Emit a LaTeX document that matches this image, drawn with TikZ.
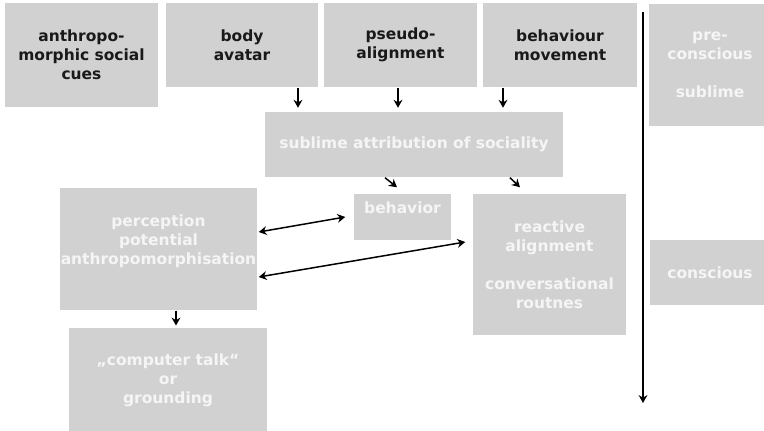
\documentclass[tikz,border=0pt]{standalone}
\usepackage{fontspec}
\setmainfont{DejaVu Sans}
\usetikzlibrary{arrows.meta}
\definecolor{boxgray}{HTML}{D1D1D1}
\definecolor{paletext}{HTML}{F5F5F5}

\begin{document}
\begin{tikzpicture}[x=0.02cm,y=-0.02cm,>={Stealth[length=4.5pt,width=5pt]},
    font=\bfseries\fontsize{8.8}{10.8}\selectfont,line width=0.85pt,
    box/.style={fill=boxgray,inner sep=0pt,align=center,text=black!90},
    pale/.style={box,text=paletext}]
  \useasboundingbox (0,0) rectangle (764,431);
  \clip (0,0) rectangle (764,431);
  \node[box,minimum width=3.06cm,minimum height=2.08cm] (cues) at (81.5,55)
    {anthropo-\\morphic social\\cues};
  \node[box,minimum width=3.04cm,minimum height=1.68cm] (avatar) at (242,45)
    {body\\avatar};
  \node[box,minimum width=3.06cm,minimum height=1.68cm] (pseudo) at (400.5,45)
    {pseudo-\\alignment};
  \node[box,minimum width=3.08cm,minimum height=1.68cm] (movement) at (560,45)
    {behaviour\\movement};
  \node[pale,minimum width=2.44cm,minimum height=2.44cm] (precon) at (710,65)
    {pre-\\conscious\\~\\sublime};
  \node[pale,minimum width=2.4cm,minimum height=1.3cm] (con) at (710,272.5)
    {conscious};
  \node[pale,minimum width=5.96cm,minimum height=1.3cm] (sublime) at (414,144.5)
    {sublime attribution of sociality};
  \node[pale,minimum width=3.94cm,minimum height=2.44cm] (perc) at (158.5,249)
    {perception\\potential\\anthropomorphisation\\~};
  \node[pale,minimum width=1.94cm,minimum height=0.92cm] (behav) at (402.5,217)
    {behavior\\~};
  \node[pale,minimum width=3.06cm,minimum height=2.82cm] (react) at (549.5,264.5)
    {reactive\\alignment\\~\\conversational\\routnes};
  \node[pale,minimum width=3.96cm,minimum height=2.1cm] (talk) at (168,380.5)
    {„computer talk“\\or\\grounding};
  \draw[->,shorten >=2pt] ([xshift=1.12cm]avatar.south)
    -- ([xshift=1.12cm]avatar.south |- sublime.north);
  \draw[->,shorten >=2pt] ([xshift=-0.05cm]pseudo.south)
    -- ([xshift=-0.05cm]pseudo.south |- sublime.north);
  \draw[->,shorten >=2pt] ([xshift=-1.14cm]movement.south)
    -- ([xshift=-1.14cm]movement.south |- sublime.north);
  \draw[->] ([xshift=-0.58cm]sublime.south) -- ([xshift=-0.11cm,yshift=0.12cm]behav.north);
  \draw[->] ([xshift=1.92cm]sublime.south) -- ([xshift=-0.59cm,yshift=0.12cm]react.north);
  \draw[<->] ([xshift=0.02cm,yshift=0.34cm]perc.east) -- ([xshift=-0.16cm]behav.west);
  \draw[<->] ([xshift=0.02cm,yshift=-0.56cm]perc.east)
    -- ([xshift=-0.14cm,yshift=0.45cm]react.west);
  \draw[->,shorten >=1pt] ([xshift=0.35cm]perc.south)
    -- ([xshift=0.35cm]perc.south |- talk.north);
  \coordinate (axtop) at (643,12);
  \coordinate (axbot) at (643,403);
  \draw[->] (axtop) -- (axbot);
\end{tikzpicture}
\end{document}
